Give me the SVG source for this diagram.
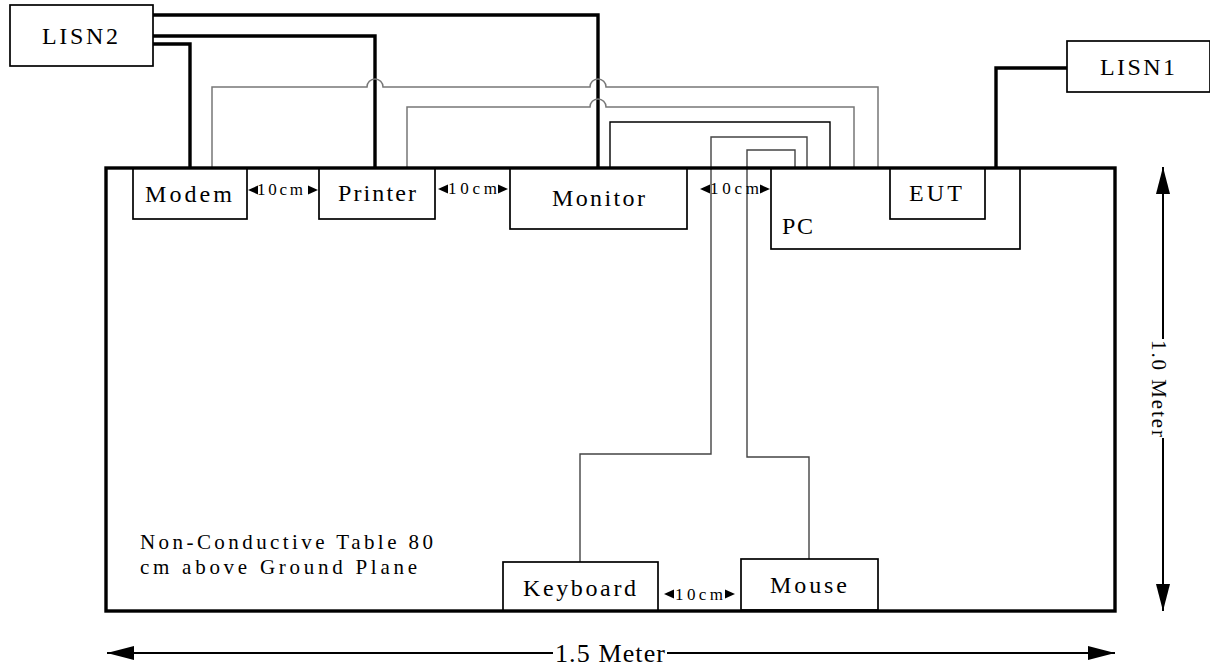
<svg xmlns="http://www.w3.org/2000/svg" xmlns:xlink="http://www.w3.org/1999/xlink" width="1210" height="670" viewBox="0 0 1210 670">
<style>
  text { font-family: "Liberation Serif", "Times New Roman", serif; fill: #000; }
  .lbl { font-size: 24px; }
  .small { font-size: 17px; }
  .dim { font-size: 26px; }
  .note { font-size: 21px; }
  .box { fill: #fff; stroke: #000; stroke-width: 1.7; }
  .table { fill: none; stroke: #000; stroke-width: 3.4; }
  .power { fill: none; stroke: #000; stroke-width: 3.4; }
  .sig { fill: none; stroke: #777; stroke-width: 1.5; }
  .sigk { fill: none; stroke: #000; stroke-width: 1.4; }
  .sigd { fill: none; stroke: #444; stroke-width: 1.4; }
  .dimline { fill: none; stroke: #000; stroke-width: 2; }
</style>
<defs>
  <marker id="bigArrow" viewBox="0 0 27 14" refX="27" refY="7" markerUnits="userSpaceOnUse" markerWidth="27" markerHeight="14" orient="auto-start-reverse">
    <path d="M0,0 L27,7 L0,14 z" fill="#000"/>
  </marker>
  <path id="triL" d="M0,0 L10,-4.5 L10,4.5 z" fill="#000"/>
  <path id="triR" d="M0,0 L-10,-4.5 L-10,4.5 z" fill="#000"/>
</defs>

<rect width="1210" height="670" fill="#fff"/>

<!-- connectors -->
<g id="connectors">
  <!-- power cables from LISN2 -->
  <path class="power" d="M153,15 H598 V168"/>
  <path class="power" d="M153,36 H375 V168"/>
  <path class="power" d="M153,44 H190 V168"/>
  <!-- power cable from LISN1 -->
  <path class="power" d="M1067,68 H996 V168"/>
  <!-- Modem to PC (hops over printer and monitor power) -->
  <path class="sig" d="M212,168 V87 H367 A8,8 0 0 1 383,87 H590 A8,8 0 0 1 606,87 H878 V168"/>
  <!-- Printer to PC -->
  <path class="sig" d="M407,168 V107 H590 A8,8 0 0 1 606,107 H854 V168"/>
  <!-- Monitor to PC -->
  <path class="sigk" d="M610,168 V122 H830 V168"/>
  <!-- Keyboard to PC -->
  <path class="sigd" d="M580,562 V454 H711 V137 H807 V168"/>
  <!-- Mouse to PC -->
  <path class="sigd" d="M809,559 V457 H747 V150 H795 V168"/>
</g>

<!-- nodes -->
<g id="lisn2">
  <rect class="box" x="10" y="5" width="143" height="61"/>
  <text class="lbl" x="42" y="44" textLength="76" lengthAdjust="spacing">LISN2</text>
</g>
<g id="lisn1">
  <rect class="box" x="1067" y="41" width="143" height="51"/>
  <text class="lbl" x="1100" y="75" textLength="75" lengthAdjust="spacing">LISN1</text>
</g>
<g id="modem">
  <rect class="box" x="133" y="168" width="114" height="51"/>
  <text class="lbl" x="145" y="202" textLength="87" lengthAdjust="spacing">Modem</text>
</g>
<g id="printer">
  <rect class="box" x="319" y="168" width="116" height="51"/>
  <text class="lbl" x="338" y="201" textLength="78" lengthAdjust="spacing">Printer</text>
</g>
<g id="monitor">
  <rect class="box" x="510" y="168" width="177" height="61"/>
  <text class="lbl" x="552" y="206" textLength="93" lengthAdjust="spacing">Monitor</text>
</g>
<g id="pc">
  <rect class="box" x="771" y="168" width="249" height="81"/>
  <text class="lbl" x="782" y="234" textLength="31" lengthAdjust="spacing">PC</text>
</g>
<g id="eut">
  <rect class="box" x="890" y="168" width="95" height="51"/>
  <text class="lbl" x="909" y="201" textLength="53" lengthAdjust="spacing">EUT</text>
</g>
<g id="keyboard">
  <rect class="box" x="503" y="562" width="155" height="49"/>
  <text class="lbl" x="523" y="596" textLength="113" lengthAdjust="spacing">Keyboard</text>
</g>
<g id="mouse">
  <rect class="box" x="741" y="559" width="137" height="51"/>
  <text class="lbl" x="770" y="593" textLength="77" lengthAdjust="spacing">Mouse</text>
</g>

<!-- table -->
<g id="table">
  <rect class="table" x="106" y="168" width="1009" height="443"/>
  <text class="note" x="140" y="549" textLength="293" lengthAdjust="spacing">Non-Conductive Table 80</text>
  <text class="note" x="140" y="574" textLength="277" lengthAdjust="spacing">cm above Ground Plane</text>
</g>

<!-- 10cm spacing labels -->
<g id="spacing">
  <use xlink:href="#triL" x="248" y="190"/>
  <text class="small" x="257" y="195" textLength="46" lengthAdjust="spacing">10cm</text>
  <use xlink:href="#triR" x="318" y="190"/>

  <use xlink:href="#triL" x="438" y="189"/>
  <text class="small" x="448" y="194" textLength="49" lengthAdjust="spacing">10cm</text>
  <use xlink:href="#triR" x="508" y="189"/>

  <use xlink:href="#triL" x="700" y="189"/>
  <text class="small" x="710" y="194" textLength="49" lengthAdjust="spacing">10cm</text>
  <use xlink:href="#triR" x="770" y="189"/>

  <use xlink:href="#triL" x="664" y="594"/>
  <text class="small" x="675" y="600" textLength="48" lengthAdjust="spacing">10cm</text>
  <use xlink:href="#triR" x="735" y="594"/>
</g>

<!-- dimensions -->
<g id="dim-width">
  <line class="dimline" x1="107" y1="653" x2="553" y2="653" marker-start="url(#bigArrow)"/>
  <line class="dimline" x1="667" y1="653" x2="1115" y2="653" marker-end="url(#bigArrow)"/>
  <text class="dim" x="555" y="662" textLength="110" lengthAdjust="spacing">1.5 Meter</text>
</g>
<g id="dim-depth">
  <line class="dimline" x1="1163" y1="167" x2="1163" y2="339" marker-start="url(#bigArrow)"/>
  <line class="dimline" x1="1163" y1="438" x2="1163" y2="611" marker-end="url(#bigArrow)"/>
  <text class="note" transform="translate(1152,340) rotate(90)" x="0" y="0" textLength="97" lengthAdjust="spacing">1.0 Meter</text>
</g>
</svg>
